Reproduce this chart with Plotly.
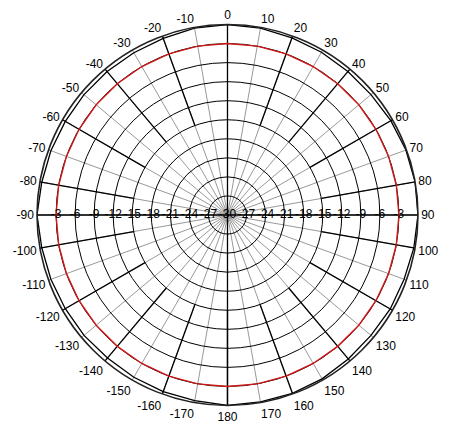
import plotly.graph_objects as go

# 角度（度）と測定値（dB）
angles = [0, 10, 20, 30, 40, 50, 60, 70, 80, 90, 100, 110, 120, 130, 140, 150, 160, 170, 180,
          190, 200, 210, 220, 230, 240, 250, 260, 270, 280, 290, 300, 310, 320, 330, 340, 350, 360]
pattern_db = [0.0, -0.1, -0.3, -0.4, -0.5, -0.5, -0.3, -0.1, 0.0, 0.0, -0.2, -0.4, -0.4, -0.5, -0.4, -0.2,
              -0.1, -0.1, 0.0, -0.3, -0.4, -0.5, -0.6, -0.5, -0.5, -0.4, -0.3, 0.0, -0.3, -0.4, -0.5,
              -0.5, -0.5, -0.5, -0.4, -0.1, 0.0]
ref_db = [-3.0] * len(angles)

# 目盛り
theta_ticks = list(range(0, 360, 10))
theta_labels = [str(a) if a <= 180 else str(a - 360) for a in theta_ticks]
r_ticks = [-27, -24, -21, -18, -15, -12, -9, -6, -3]
r_labels = ["-30", "-27", "-24", "-21", "-18", "-15", "-12", "-9", "-6", "-3"]
r_label_pos = [-30, -27, -24, -21, -18, -15, -12, -9, -6, -3]

# 太い放射線（20度ごと、外側のみ）と中心を通る線
spoke_angles = list(range(20, 360, 20))
axis_angles = [0, 90, 180, 270]

fig = go.Figure()

sp_t, sp_r = [], []
for a in spoke_angles:
    sp_t += [a, a, None]
    sp_r += [-15, 0, None]
for a in axis_angles:
    sp_t += [a, a, None]
    sp_r += [-30, 0, None]
fig.add_trace(go.Scatterpolar(theta=sp_t, r=sp_r, mode="lines",
                              line=dict(color="black", width=1.3), hoverinfo="skip"))

fig.add_trace(go.Scatterpolar(theta=angles, r=ref_db, mode="lines",
                              line=dict(color="#d01818", width=1.4)))
fig.add_trace(go.Scatterpolar(theta=angles, r=pattern_db, mode="lines",
                              line=dict(color="black", width=1.3)))

# 半径ラベル（左右）
fig.add_trace(go.Scatterpolar(theta=[90] * len(r_label_pos), r=r_label_pos, mode="text",
                              text=r_labels, textfont=dict(size=12, color="black",
                                                           family="Liberation Sans")))
fig.add_trace(go.Scatterpolar(theta=[270] * (len(r_label_pos) - 1), r=r_label_pos[1:], mode="text",
                              text=r_labels[1:], textfont=dict(size=12, color="black",
                                                               family="Liberation Sans")))

fig.update_layout(
    width=455, height=437,
    margin=dict(l=0, r=0, t=0, b=0),
    paper_bgcolor="white",
    showlegend=False,
    font=dict(family="Liberation Sans", size=12, color="black"),
    polar=dict(
        domain=dict(x=[0.0637, 0.9011], y=[0.0904, 0.9622]),
        bgcolor="white",
        angularaxis=dict(rotation=90, direction="clockwise",
                         tickmode="array", tickvals=theta_ticks, ticktext=theta_labels,
                         ticks="", showgrid=True, gridcolor="#999999", gridwidth=1,
                         linecolor="#222222", linewidth=1.6,
                         tickfont=dict(size=12, color="black")),
        radialaxis=dict(range=[-30, 0], tickmode="array", tickvals=r_ticks,
                        showticklabels=False, ticks="", showline=False,
                        gridcolor="black", gridwidth=1.3),
    ),
)

fig.write_html("out.html")
